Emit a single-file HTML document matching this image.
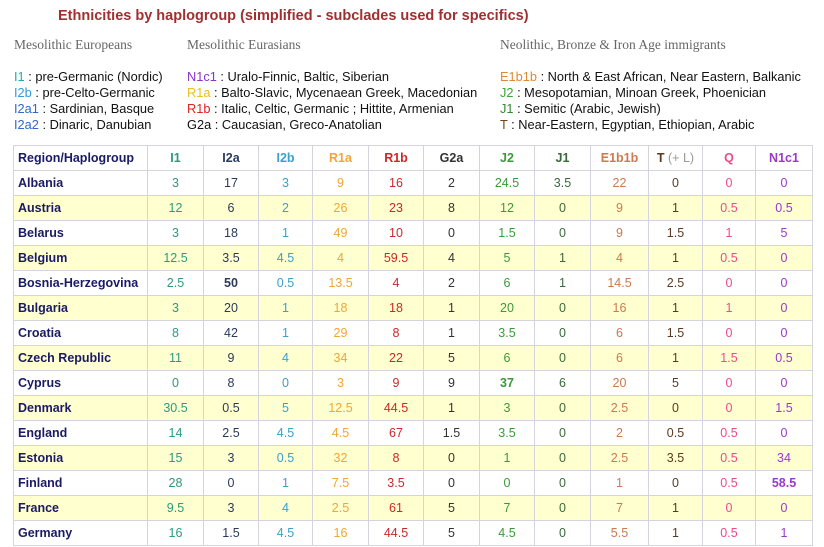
<!DOCTYPE html>
<html><head><meta charset="utf-8"><style>
body{margin:0;width:824px;height:547px;background:#fff;overflow:hidden;position:relative;font-family:"Liberation Sans",Arial,sans-serif}
.t{position:absolute;left:58px;top:8px;font-size:14.5px;font-weight:bold;color:#a03030;white-space:nowrap}
.s{position:absolute;top:37px;font-family:"Liberation Serif",serif;font-size:13.5px;color:#666;white-space:nowrap}
.l{position:absolute;top:69px;font-size:12.8px;line-height:16px;color:#111;white-space:nowrap}
table{position:absolute;left:13px;top:145px;border-collapse:collapse;table-layout:fixed}
td{border:1px solid #d4d4dc;height:24px;padding:0;text-align:center;font-size:12.5px}
tr:nth-child(odd) td{background:#ffffd0}
tr:first-child td{background:#fff;font-weight:bold}
td:first-child{text-align:left;padding-left:4px;font-weight:bold;color:#1a1a66}
tr td:nth-child(2){color:#2a9a80}tr td:nth-child(3){color:#2a3a5a}tr td:nth-child(4){color:#3aa0cc}
tr td:nth-child(5){color:#f0a535}tr td:nth-child(6){color:#cc2828}tr td:nth-child(7){color:#333}
tr td:nth-child(8){color:#3a9a3a}tr td:nth-child(9){color:#3a6a3a}tr td:nth-child(10){color:#cc7a50}
tr td:nth-child(11){color:#5a3a20}tr td:nth-child(12){color:#ee4a8a}tr td:nth-child(13){color:#9a3acc}
b{font-weight:bold}
</style></head><body>
<div class="t">Ethnicities by haplogroup (simplified - subclades used for specifics)</div>
<div class="s" style="left:14px">Mesolithic Europeans</div>
<div class="s" style="left:187px">Mesolithic Eurasians</div>
<div class="s" style="left:500px">Neolithic, Bronze &amp; Iron Age immigrants</div>
<div class="l" style="left:14px"><span style="color:#22aaaa">I1</span> : pre-Germanic (Nordic)<br><span style="color:#3399dd">I2b</span> : pre-Celto-Germanic<br><span style="color:#3366cc">I2a1</span> : Sardinian, Basque<br><span style="color:#3366cc">I2a2</span> : Dinaric, Danubian</div>
<div class="l" style="left:187px"><span style="color:#8833cc">N1c1</span> : Uralo-Finnic, Baltic, Siberian<br><span style="color:#e8c020">R1a</span> : Balto-Slavic, Mycenaean Greek, Macedonian<br><span style="color:#dd2222">R1b</span> : Italic, Celtic, Germanic ; Hittite, Armenian<br>G2a : Caucasian, Greco-Anatolian</div>
<div class="l" style="left:500px"><span style="color:#dd8833">E1b1b</span> : North &amp; East African, Near Eastern, Balkanic<br><span style="color:#33aa33">J2</span> : Mesopotamian, Minoan Greek, Phoenician<br><span style="color:#338833">J1</span> : Semitic (Arabic, Jewish)<br><span style="color:#774411">T</span> : Near-Eastern, Egyptian, Ethiopian, Arabic</div>
<table>
<colgroup><col style="width:134px"><col style="width:56px"><col style="width:55px"><col style="width:54px"><col style="width:56px"><col style="width:55px"><col style="width:56px"><col style="width:55px"><col style="width:56px"><col style="width:58px"><col style="width:54px"><col style="width:53px"><col style="width:57px"></colgroup>
<tr><td>Region/Haplogroup</td><td>I1</td><td>I2a</td><td>I2b</td><td>R1a</td><td>R1b</td><td>G2a</td><td>J2</td><td>J1</td><td>E1b1b</td><td>T <span style="color:#999;font-weight:normal">(+ L)</span></td><td>Q</td><td>N1c1</td></tr>
<tr><td>Albania</td><td>3</td><td>17</td><td>3</td><td>9</td><td>16</td><td>2</td><td>24.5</td><td>3.5</td><td>22</td><td>0</td><td>0</td><td>0</td></tr>
<tr><td>Austria</td><td>12</td><td>6</td><td>2</td><td>26</td><td>23</td><td>8</td><td>12</td><td>0</td><td>9</td><td>1</td><td>0.5</td><td>0.5</td></tr>
<tr><td>Belarus</td><td>3</td><td>18</td><td>1</td><td>49</td><td>10</td><td>0</td><td>1.5</td><td>0</td><td>9</td><td>1.5</td><td>1</td><td>5</td></tr>
<tr><td>Belgium</td><td>12.5</td><td>3.5</td><td>4.5</td><td>4</td><td>59.5</td><td>4</td><td>5</td><td>1</td><td>4</td><td>1</td><td>0.5</td><td>0</td></tr>
<tr><td>Bosnia-Herzegovina</td><td>2.5</td><td><b>50</b></td><td>0.5</td><td>13.5</td><td>4</td><td>2</td><td>6</td><td>1</td><td>14.5</td><td>2.5</td><td>0</td><td>0</td></tr>
<tr><td>Bulgaria</td><td>3</td><td>20</td><td>1</td><td>18</td><td>18</td><td>1</td><td>20</td><td>0</td><td>16</td><td>1</td><td>1</td><td>0</td></tr>
<tr><td>Croatia</td><td>8</td><td>42</td><td>1</td><td>29</td><td>8</td><td>1</td><td>3.5</td><td>0</td><td>6</td><td>1.5</td><td>0</td><td>0</td></tr>
<tr><td>Czech Republic</td><td>11</td><td>9</td><td>4</td><td>34</td><td>22</td><td>5</td><td>6</td><td>0</td><td>6</td><td>1</td><td>1.5</td><td>0.5</td></tr>
<tr><td>Cyprus</td><td>0</td><td>8</td><td>0</td><td>3</td><td>9</td><td>9</td><td><b>37</b></td><td>6</td><td>20</td><td>5</td><td>0</td><td>0</td></tr>
<tr><td>Denmark</td><td>30.5</td><td>0.5</td><td>5</td><td>12.5</td><td>44.5</td><td>1</td><td>3</td><td>0</td><td>2.5</td><td>0</td><td>0</td><td>1.5</td></tr>
<tr><td>England</td><td>14</td><td>2.5</td><td>4.5</td><td>4.5</td><td>67</td><td>1.5</td><td>3.5</td><td>0</td><td>2</td><td>0.5</td><td>0.5</td><td>0</td></tr>
<tr><td>Estonia</td><td>15</td><td>3</td><td>0.5</td><td>32</td><td>8</td><td>0</td><td>1</td><td>0</td><td>2.5</td><td>3.5</td><td>0.5</td><td>34</td></tr>
<tr><td>Finland</td><td>28</td><td>0</td><td>1</td><td>7.5</td><td>3.5</td><td>0</td><td>0</td><td>0</td><td>1</td><td>0</td><td>0.5</td><td><b>58.5</b></td></tr>
<tr><td>France</td><td>9.5</td><td>3</td><td>4</td><td>2.5</td><td>61</td><td>5</td><td>7</td><td>0</td><td>7</td><td>1</td><td>0</td><td>0</td></tr>
<tr><td>Germany</td><td>16</td><td>1.5</td><td>4.5</td><td>16</td><td>44.5</td><td>5</td><td>4.5</td><td>0</td><td>5.5</td><td>1</td><td>0.5</td><td>1</td></tr>
</table>
</body></html>
